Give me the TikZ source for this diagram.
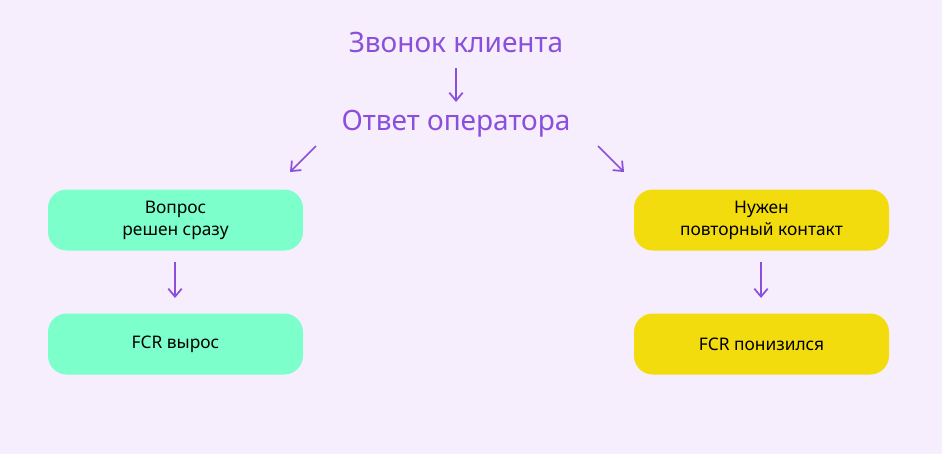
\documentclass[tikz,border=0pt]{standalone}
\usepackage{fontspec}
\setmainfont{Noto Sans}
\usetikzlibrary{arrows.meta}
\definecolor{bg}{HTML}{F6EEFC}
\definecolor{pur}{HTML}{8A4FDB}
\definecolor{grn}{HTML}{7DFFCC}
\definecolor{yel}{HTML}{F2DC0E}
\begin{document}
\begin{tikzpicture}[x=0.75pt,y=-0.75pt,
  ttl/.style={text=pur,font=\fontsize{21}{24}\selectfont,inner sep=0pt},
  box/.style={rounded corners=14pt,minimum width=191.25pt,minimum height=45.75pt,align=center,font=\fontsize{13}{16.5}\selectfont\bfseries,text=black,inner sep=0pt},
  arr/.style={draw=pur,line width=1.3pt,-{Straight Barb[length=6pt,width=10pt]}}]
\fill[bg] (0,0) rectangle (942,454);
\node[ttl] (z) at (456,42) {Звонок клиента};
\node[ttl] (o) at (456,124) {Ответ оператора};
\node[box,fill=grn] (a) at (175.5,220) {Вопрос\\решен сразу};
\node[box,fill=grn] (b) at (175.5,344) {FCR вырос};
\node[box,fill=yel] (c) at (761.5,220) {Нужен\\повторный контакт};
\node[box,fill=yel] (d) at (761.5,344) {FCR понизился};
\coordinate (p1) at (456,68); \coordinate (p2) at (456,102);
\coordinate (l1) at (316,146); \coordinate (l2) at (290,172);
\coordinate (r1) at (598,146); \coordinate (r2) at (624,172);
\coordinate (a1) at (175,262); \coordinate (a2) at (175,298);
\coordinate (c1) at (761,262); \coordinate (c2) at (761,298);
\draw[arr] (p1) -- (p2);
\draw[arr] (l1) -- (l2);
\draw[arr] (r1) -- (r2);
\draw[arr] (a1) -- (a2);
\draw[arr] (c1) -- (c2);
\end{tikzpicture}
\end{document}
